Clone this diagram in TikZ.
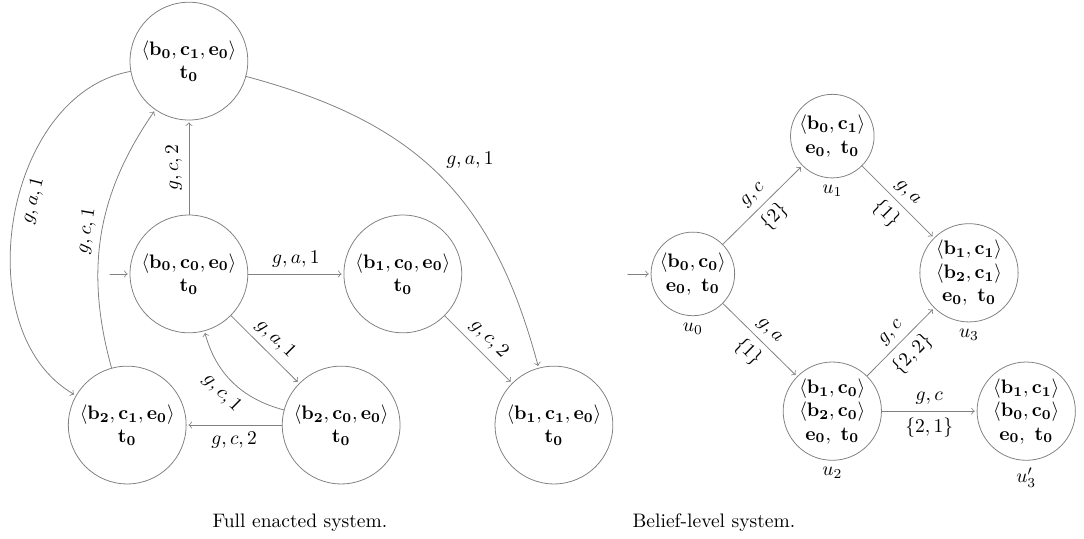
\documentclass[tikz,border=0pt]{standalone}
\usetikzlibrary{arrows}
\begin{document}
\begin{tikzpicture}[line join=round, line cap=round,
    state/.style={circle, draw=gray, align=center, inner sep=1pt},
    fstate/.style={state, minimum size=2.12cm},
    tr/.style={->, draw=gray, shorten >=1pt}]
  \useasboundingbox (0,0) rectangle (19.51,-9.70);
  % full enacted system
  \node[fstate] (b0c1) at (3.40,-1.10) {$\langle\mathbf{b_0,c_1,e_0}\rangle$\\$\mathbf{t_0}$};
  \node[fstate] (b0c0) at (3.40,-4.93) {$\langle\mathbf{b_0,c_0,e_0}\rangle$\\$\mathbf{t_0}$};
  \node[fstate] (b1c0) at (7.25,-4.93) {$\langle\mathbf{b_1,c_0,e_0}\rangle$\\$\mathbf{t_0}$};
  \node[fstate] (b2c1) at (2.29,-7.65) {$\langle\mathbf{b_2,c_1,e_0}\rangle$\\$\mathbf{t_0}$};
  \node[fstate] (b2c0) at (6.14,-7.65) {$\langle\mathbf{b_2,c_0,e_0}\rangle$\\$\mathbf{t_0}$};
  \node[fstate] (b1c1) at (9.97,-7.65) {$\langle\mathbf{b_1,c_1,e_0}\rangle$\\$\mathbf{t_0}$};
  \coordinate (init1) at (1.98,-4.93);

  \draw[tr] (init1) -- (b0c0);
  \draw[tr] (b0c0) -- node[sloped, above]{$g,c,2$} (b0c1);
  \draw[tr] (b0c0) -- node[above]{$g,a,1$} (b1c0);
  \draw[tr] (b0c0) -- node[sloped, above]{$g,a,1$} (b2c0);
  \draw[tr] (b2c0) to[bend left=30] node[sloped, below]{$g,c,1$} (b0c0);
  \draw[tr] (b2c0) -- node[below]{$g,c,2$} (b2c1);
  \draw[tr] (b1c0) -- node[sloped, above]{$g,c,2$} (b1c1);
  \draw[tr] (b0c1) to[out=-15, in=105, looseness=1.1] node[above right]{$g,a,1$} (b1c1);
  \draw[tr] (b0c1) to[out=190, in=150] node[pos=.45, sloped, below]{$g,a,1$} (b2c1);
  \draw[tr] (b2c1) to[bend left=25] node[sloped, above]{$g,c,1$} (b0c1);

  \node (cap1) at (5.40,-9.40) {Full enacted system.};

  % belief-level system
  \node[state, label=below:$u_0$] (u0) at (12.47,-4.93) {$\langle\mathbf{b_0,c_0}\rangle$\\$\mathbf{e_0},\ \mathbf{t_0}$};
  \node[state, label=below:$u_1$] (u1) at (14.98,-2.45) {$\langle\mathbf{b_0,c_1}\rangle$\\$\mathbf{e_0},\ \mathbf{t_0}$};
  \node[state, label=below:$u_3$] (u3) at (17.44,-4.91) {$\langle\mathbf{b_1,c_1}\rangle$\\$\langle\mathbf{b_2,c_1}\rangle$\\$\mathbf{e_0},\ \mathbf{t_0}$};
  \node[state, label=below:$u_2$] (u2) at (14.98,-7.40) {$\langle\mathbf{b_1,c_0}\rangle$\\$\langle\mathbf{b_2,c_0}\rangle$\\$\mathbf{e_0},\ \mathbf{t_0}$};
  \node[state, label=below:$u'_3$] (u3p) at (18.47,-7.40) {$\langle\mathbf{b_1,c_1}\rangle$\\$\langle\mathbf{b_0,c_0}\rangle$\\$\mathbf{e_0},\ \mathbf{t_0}$};
  \coordinate (init2) at (11.30,-4.93);

  \draw[tr] (init2) -- (u0);
  \draw[tr] (u0) -- node[sloped, above]{$g,c$} node[sloped, below]{$\{2\}$} (u1);
  \draw[tr] (u1) -- node[sloped, above]{$g,a$} node[sloped, below]{$\{1\}$} (u3);
  \draw[tr] (u0) -- node[sloped, above]{$g,a$} node[sloped, below]{$\{1\}$} (u2);
  \draw[tr] (u2) -- node[sloped, above]{$g,c$} node[sloped, below]{$\{2,2\}$} (u3);
  \draw[tr] (u2) -- node[above]{$g,c$} node[below]{$\{2,1\}$} (u3p);

  \node (cap2) at (12.85,-9.40) {Belief-level system.};
\end{tikzpicture}
\end{document}
